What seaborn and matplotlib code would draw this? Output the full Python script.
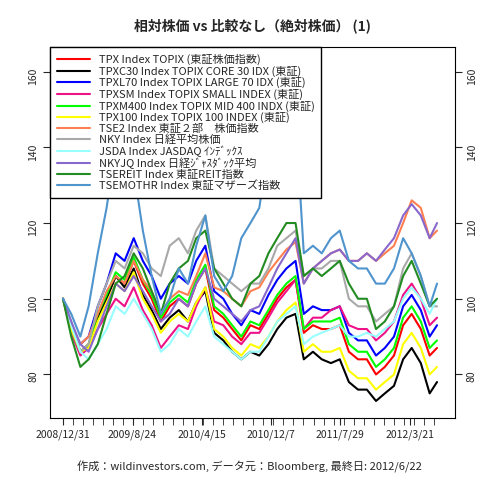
import matplotlib
matplotlib.use("Agg")
import matplotlib.pyplot as plt
import matplotlib.dates as mdates
import seaborn as sns
import pandas as pd

# monthly readings, 2008/12/31 .. 2012/6/22
dates = pd.to_datetime(["2008-12-31"] + [f"{y}-{m:02d}-28" for y in (2009, 2010, 2011) for m in range(1, 13)]
                       + [f"2012-{m:02d}-28" for m in range(1, 6)] + ["2012-06-22"])

tpx = [100,92,86,88,95,100,106,104,110,104,100,94,98, 100,98,104,108,97,95,92,89,93,92,96,100,
       103,105,91,93,92,92,93,86,84,84,80,82, 85,93,96,92,85,87]
core30 = [100,93,86,87,95,100,106,103,108,101,97,92,95, 97,94,99,102,91,89,86,84,86,85,88,92,
          95,96,84,86,84,83,84,78,76,76,73,75, 77,84,87,83,75,78]
large70 = [100,93,88,90,98,104,112,110,116,110,106,100,104, 106,104,110,114,102,100,96,93,97,96,101,105,
           108,110,96,98,97,97,98,91,89,89,85,87, 90,98,101,97,90,93]
small = [100,91,85,87,92,96,100,98,103,97,93,87,90, 93,92,98,103,94,93,90,88,91,91,95,99,
         102,105,92,95,95,97,98,93,92,92,89,91, 94,101,104,100,93,95]
mid400 = [100,92,86,88,96,101,107,105,111,105,101,95,99, 101,99,105,109,98,96,93,90,94,93,97,101,
          104,106,92,94,94,94,95,88,86,86,82,84, 87,95,98,94,87,89]
tpx100 = [100,92,86,87,94,99,104,102,107,100,96,91,94, 96,94,99,103,92,90,87,85,88,87,90,94,
          97,99,86,88,86,86,87,81,79,79,76,78, 80,88,91,87,80,82]
tse2 = [100,93,88,90,96,102,106,104,110,105,102,96,100, 102,101,106,112,103,102,100,98,102,103,107,110,
        113,115,104,108,110,112,113,110,110,112,110,112, 114,120,126,124,116,118]
nky = [100,94,86,88,98,104,110,108,114,112,108,106,114, 116,112,118,122,108,106,104,102,104,104,108,114,
       116,118,106,108,108,110,110,100,98,98,94,96, 98,108,112,106,98,98]
jsda = [100,93,86,84,88,92,98,96,100,96,92,86,88, 92,90,94,98,90,88,86,84,86,86,90,94,
        96,98,88,90,91,92,93,90,90,91,90,92, 94,100,103,100,96,100]
nkyjq = [100,94,88,86,92,98,104,102,106,102,98,94,96, 100,98,104,108,100,98,96,94,97,98,103,108,
         112,116,104,108,110,112,113,110,110,112,110,113, 116,122,125,122,116,120]
reit = [100,90,82,84,88,96,104,106,112,108,102,96,104, 108,110,116,118,108,104,100,98,104,106,112,116,
        120,120,106,108,106,108,110,104,100,100,92,94, 98,106,110,104,98,100]
mothers = [100,96,90,98,112,124,140,128,134,118,106,96,100, 108,104,114,122,106,102,106,116,120,124,140,156,
           162,148,112,114,112,116,118,110,108,108,104,104, 108,116,112,106,98,104]

series = [
    ("TPX Index TOPIX (東証株価指数)", tpx, "#ff0000"),
    ("TPXC30 Index TOPIX CORE 30 IDX (東証)", core30, "#000000"),
    ("TPXL70 Index TOPIX LARGE 70 IDX (東証)", large70, "#0000ff"),
    ("TPXSM Index TOPIX SMALL INDEX (東証)", small, "#ee1188"),
    ("TPXM400 Index TOPIX MID 400 INDX (東証)", mid400, "#00ff00"),
    ("TPX100 Index TOPIX 100 INDEX (東証)", tpx100, "#ffff00"),
    ("TSE2 Index 東証２部　株価指数", tse2, "#ff7f50"),
    ("NKY Index 日経平均株価", nky, "#a9a9a9"),
    ("JSDA Index JASDAQ ｲﾝﾃﾞｯｸｽ", jsda, "#97ffff"),
    ("NKYJQ Index 日経ｼﾞｬｽﾀﾞｯｸ平均", nkyjq, "#8968cd"),
    ("TSEREIT Index 東証REIT指数", reit, "#228b22"),
    ("TSEMOTHR Index 東証マザーズ指数", mothers, "#4f94cd"),
]
tick_dates = pd.to_datetime(["2008-12-31", "2009-08-24", "2010-04-15", "2010-12-07", "2011-07-29", "2012-03-21"])

sns.set_style("white")
plt.rcParams['font.family'] = ['Noto Sans CJK JP', 'DejaVu Sans']

fig = plt.figure(figsize=(4.8, 4.8), dpi=100)
ax = fig.add_axes([50/480, 62/480, 405/480, 371/480])
for name, vals, col in series:
    sns.lineplot(x=dates, y=vals, color=col, lw=1.5, label=name, ax=ax)

ax.set_ylim(68.5, 166.5)
ax.set_xlim(pd.Timestamp("2008-11-17"), pd.Timestamp("2012-08-22"))
ax.set_xticks(tick_dates)
ax.xaxis.set_major_formatter(mdates.DateFormatter("%Y/%-m/%-d"))
ax.set_xticks(pd.date_range("2008-12-31", "2012-06-22", freq="34D"), minor=True)
ax.tick_params(axis="x", which="both", direction="out", length=5, bottom=True, labelsize=7.5)
ax.set_yticks([80, 100, 120, 140, 160])
ax.tick_params(axis="y", direction="out", length=5, left=True, right=True, labelright=True,
               labelsize=7.5, labelrotation=90)
for s in ax.spines.values():
    s.set_color("black")
ax.set_xlabel("")
ax.set_ylabel("")
ax.set_title("相対株価 vs 比較なし（絶対株価） (1)", fontsize=10, fontweight="bold", pad=12)
leg = ax.legend(loc="upper left", fontsize=8, frameon=True, fancybox=False, borderaxespad=0,
                handlelength=3, labelspacing=0.05, borderpad=0.6)
leg.get_frame().set_edgecolor("black")
leg.get_frame().set_alpha(1)
fig.text(0.52, 0.02, "作成：wildinvestors.com, データ元：Bloomberg, 最終日: 2012/6/22", ha="center", fontsize=8)
fig.savefig("out.png", dpi=100)
